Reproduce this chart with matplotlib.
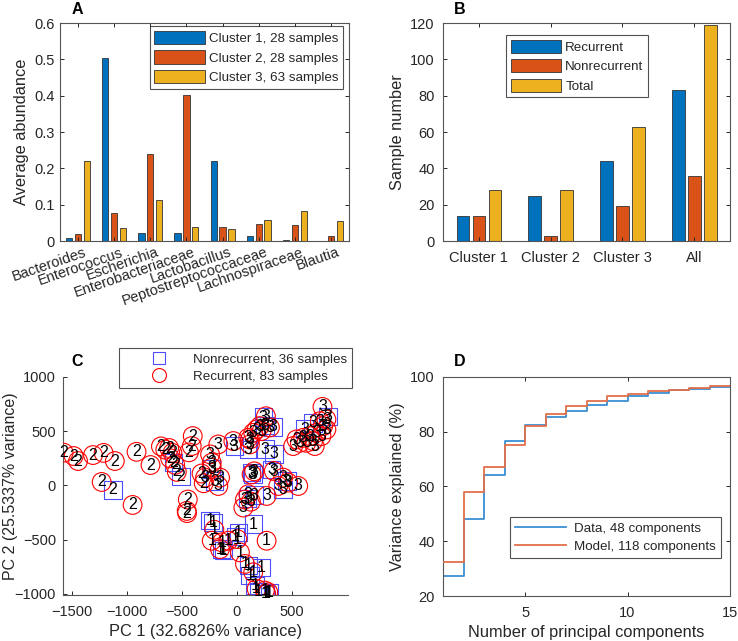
import numpy as np
import matplotlib
matplotlib.use("Agg")
import matplotlib.pyplot as plt
from matplotlib.lines import Line2D
import matplotlib.transforms as mtransforms

plt.rcParams['font.family'] = ['Liberation Sans', 'DejaVu Sans']
plt.rcParams['axes.edgecolor'] = '#262626'
plt.rcParams['xtick.color'] = '#262626'
plt.rcParams['ytick.color'] = '#262626'
plt.rcParams['text.color'] = '#262626'
plt.rcParams['axes.labelcolor'] = '#262626'

# ---------------- data ----------------
# Panel A
taxa = ['Bacteroides', 'Enterococcus', 'Escherichia', 'Enterobacteriaceae',
        'Lactobacillus', 'Peptostreptococcaceae', 'Lachnospiraceae', 'Blautia']
cluster1_abund = [0.007, 0.505, 0.022, 0.022, 0.220, 0.015, 0.002, 0.001]
cluster2_abund = [0.018, 0.077, 0.240, 0.403, 0.038, 0.047, 0.043, 0.013]
cluster3_abund = [0.219, 0.035, 0.113, 0.038, 0.033, 0.057, 0.082, 0.055]
legend_a = ['Cluster 1, 28 samples', 'Cluster 2, 28 samples', 'Cluster 3, 63 samples']

# Panel B
groups_b = ['Cluster 1', 'Cluster 2', 'Cluster 3', 'All']
recurrent_n = [14, 25, 44, 83]
nonrecurrent_n = [14, 3, 19, 36]
total_n = [28, 28, 63, 119]
legend_b = ['Recurrent', 'Nonrecurrent', 'Total']

# Panel C : (PC1, PC2) per sample, grouped by cluster and outcome
c1_nonrec = [(-242, -326), (-215, -340), (151, -357), (15, -434), (-10, -470),
             (-136, -587), (-120, -600), (106, -740), (227, -755), (121, -832),
             (167, -924), (200, -980), (257, -1000), (300, -990)]
c1_rec = [(-203, -409), (273, -510), (6, -495), (-227, -510), (-136, -525),
          (-152, -587), (-76, -510), (30, -617), (76, -724), (151, -801),
          (182, -954), (257, -969), (288, -985), (270, -1000)]
c2_nonrec = [(-1127, -41), (-576, 210), (-506, 80)]
c2_rec = [(-1576, 302), (-1485, 271), (-1445, 225), (-1309, 280), (-1212, 300),
          (-1110, 225), (-912, 310), (-785, 188), (-1230, 32), (-948, -180),
          (-690, 360), (-615, 345), (-585, 300), (-606, 250), (-545, 125),
          (-400, 455), (-409, 363), (-435, 305), (-445, -130), (-455, -235),
          (-452, -255), (-320, 110), (-300, 20), (-560, 190), (-650, 330)]
c3_nonrec = [(242, 630), (260, 555), (330, 540), (-21, 363), (106, 330),
             (258, 335), (342, 290), (136, 118), (150, 100), (424, -35),
             (460, 40), (697, 577), (833, 638), (-230, 150), (-200, 40),
             (100, -120), (160, -90), (620, 520), (318, 148)]
c3_rec = [(267, 638), (212, 547), (303, 535), (151, 485), (106, 439), (182, 516),
          (227, 501), (121, 424), (121, 378), (-30, 409),
          (782, 724), (818, 608), (788, 546), (727, 485), (667, 455), (606, 439),
          (545, 424), (515, 363), (576, 393), (636, 393), (712, 363), (697, 409),
          (773, 455), (818, 516), (758, 592),
          (-167, 378), (-242, 286), (-227, 210), (-227, 164), (-151, 72),
          (-288, 72), (-167, -5), (136, 102), (160, 130), (106, -81), (76, -130),
          (130, -150), (273, -97), (379, -5), (470, 26), (561, -5), (424, 72),
          (61, -204), (339, 133)]
legend_c = ['Nonrecurrent, 36 samples', 'Recurrent, 83 samples']
xlabel_c = 'PC 1 (32.6826% variance)'
ylabel_c = 'PC 2 (25.5337% variance)'

# Panel D : cumulative variance explained (%)
n_components = list(range(1, 16))
data_var = [27.4, 48.0, 64.3, 76.5, 82.6, 85.3, 87.7, 89.8, 91.3, 93.1,
            94.2, 95.2, 95.7, 96.4, 96.6]
model_var = [32.6, 58.1, 67.2, 75.0, 82.0, 86.5, 89.3, 91.4, 93.0, 93.9,
             94.8, 95.4, 96.0, 96.6, 96.7]
legend_d = ['Data, 48 components', 'Model, 118 components']

# ---------------- style ----------------
BLUE = (0.0, 0.447, 0.741)
ORANGE = (0.85, 0.325, 0.098)
YELLOW = (0.929, 0.694, 0.125)
EDGE = '#333333'
TICK_FS = 10.5
LABEL_FS = 11.8
LEG_FS = 9.6

fig = plt.figure(figsize=(7.38, 6.41), dpi=100)


def style_box(ax, box=True, xpad=5, ypad=4):
    for s in ax.spines.values():
        s.set_linewidth(0.8)
        s.set_color('#555555')
    if not box:
        ax.spines['top'].set_visible(False)
        ax.spines['right'].set_visible(False)
    ax.tick_params(direction='in', length=3, width=0.7, labelsize=TICK_FS,
                   top=box, right=box)
    ax.tick_params(axis='x', pad=xpad)
    ax.tick_params(axis='y', pad=ypad)


def legend_frame(leg):
    fr = leg.get_frame()
    fr.set_edgecolor('#262626')
    fr.set_linewidth(0.8)
    fr.set_boxstyle('square', pad=0)


# ---- Panel A ----
axA = fig.add_axes([0.0813, 0.6240, 0.3916, 0.3401])
xa = np.arange(1, len(taxa) + 1)
bw = 0.175
off = 0.245
for vals, col, lab, dx in zip([cluster1_abund, cluster2_abund, cluster3_abund],
                              [BLUE, ORANGE, YELLOW], legend_a, [-off, 0, off]):
    axA.bar(xa + dx, vals, width=bw, color=col, edgecolor=EDGE, linewidth=0.6, label=lab)
axA.set_xlim(0.5, 8.5)
axA.set_ylim(0, 0.6)
axA.set_yticks(np.arange(0, 0.61, 0.1))
axA.set_yticklabels(['0', '0.1', '0.2', '0.3', '0.4', '0.5', '0.6'])
axA.set_xticks(xa)
axA.set_xticklabels(taxa, rotation=19, ha='right', rotation_mode='anchor')
style_box(axA, xpad=3, ypad=4)
shift = mtransforms.ScaledTranslation(6 / 100, 0, fig.dpi_scale_trans)
for t in axA.get_xticklabels():
    t.set_transform(t.get_transform() + shift)
axA.set_ylabel('Average abundance', fontsize=LABEL_FS, labelpad=4)
leg = axA.legend(loc='upper right', bbox_to_anchor=(0.98, 0.985), fontsize=LEG_FS,
                 handlelength=3.8, handleheight=1.15, labelspacing=0.4,
                 borderpad=0.35, handletextpad=0.3, fancybox=False, borderaxespad=0)
legend_frame(leg)

# ---- Panel B ----
axB = fig.add_axes([0.6003, 0.6240, 0.3889, 0.3401])
xb = np.arange(1, len(groups_b) + 1)
bwb = 0.177
offb = 0.223
for vals, col, lab, dx in zip([recurrent_n, nonrecurrent_n, total_n],
                              [BLUE, ORANGE, YELLOW], legend_b, [-offb, 0, offb]):
    axB.bar(xb + dx, vals, width=bwb, color=col, edgecolor=EDGE, linewidth=0.6, label=lab)
axB.set_xlim(0.5, 4.5)
axB.set_ylim(0, 120)
axB.set_yticks(np.arange(0, 121, 20))
axB.set_xticks(xb)
axB.set_xticklabels(groups_b)
axB.set_ylabel('Sample number', fontsize=LABEL_FS)
style_box(axB, xpad=7, ypad=6)
leg = axB.legend(loc='upper left', bbox_to_anchor=(0.2195, 0.945), fontsize=LEG_FS,
                 handlelength=3.8, handleheight=1.15, labelspacing=0.4,
                 borderpad=0.35, handletextpad=0.3, fancybox=False, borderaxespad=0)
legend_frame(leg)

# ---- Panel C ----
axC = fig.add_axes([0.0854, 0.0718, 0.3862, 0.3401])
SQ = '#4d4dff'
MS = 165
for pts in [c1_nonrec, c2_nonrec, c3_nonrec]:
    arr = np.array(pts)
    axC.scatter(arr[:, 0], arr[:, 1], s=MS * 0.95, marker='s', facecolors='none',
                edgecolors=SQ, linewidths=0.8, zorder=2)
for pts in [c1_rec, c2_rec, c3_rec]:
    arr = np.array(pts)
    axC.scatter(arr[:, 0], arr[:, 1], s=MS * 1.1, marker='o', facecolors='none',
                edgecolors='red', linewidths=0.8, zorder=3)
for pts, lab in [(c1_nonrec, '1'), (c2_nonrec, '2'), (c3_nonrec, '3'),
                 (c1_rec, '1'), (c2_rec, '2'), (c3_rec, '3')]:
    for (px, py) in pts:
        axC.text(px, py, lab, ha='center', va='center', fontsize=11.5,
                 color='black', zorder=4)
axC.set_xlim(-1582, 1015)
axC.set_ylim(-1010, 1000)
axC.set_xticks([-1500, -1000, -500, 0, 500])
axC.set_yticks([-1000, -500, 0, 500, 1000])
style_box(axC, box=False, xpad=7, ypad=5)
axC.set_xlabel(xlabel_c, fontsize=LABEL_FS, labelpad=4)
axC.set_ylabel(ylabel_c, fontsize=11.5)
axC.yaxis.set_label_coords(-0.158, 0.5)
hC = [Line2D([], [], marker='s', linestyle='none', markerfacecolor='none',
             markeredgecolor=SQ, markersize=9, markeredgewidth=0.8),
      Line2D([], [], marker='o', linestyle='none', markerfacecolor='none',
             markeredgecolor='red', markersize=10, markeredgewidth=0.8)]
leg = fig.legend(hC, legend_c, loc='upper right', bbox_to_anchor=(0.477, 0.4571),
                 bbox_transform=fig.transFigure, fontsize=LEG_FS, handlelength=5.2,
                 labelspacing=0.35, borderpad=0.4, handletextpad=-0.1,
                 fancybox=False, borderaxespad=0)
legend_frame(leg)

# ---- Panel D ----
axD = fig.add_axes([0.6003, 0.0702, 0.3889, 0.3417])
axD.step(n_components, data_var, where='post', color='#3a8fd4', linewidth=1.3,
         label=legend_d[0], zorder=2)
axD.step(n_components, model_var, where='post', color='#e2704a', linewidth=1.3,
         label=legend_d[1], zorder=3)
axD.set_xlim(1, 15)
axD.set_ylim(20, 100)
axD.set_xticks([5, 10, 15])
axD.set_yticks(np.arange(20, 101, 20))
axD.set_xlabel('Number of principal components', fontsize=LABEL_FS)
axD.set_ylabel('Variance explained (%)', fontsize=LABEL_FS)
style_box(axD, xpad=7, ypad=6)
leg = axD.legend(loc='lower right', bbox_to_anchor=(0.9686, 0.1735), fontsize=LEG_FS,
                 handlelength=3.8, labelspacing=0.4, borderpad=0.4,
                 handletextpad=0.6, fancybox=False, borderaxespad=0)
legend_frame(leg)

# panel letters
for lab, x, y in [('A', 77, 9), ('B', 460, 9), ('C', 77, 362), ('D', 460, 362)]:
    fig.text(x / 738, 1 - y / 641, lab, fontsize=11.5, fontweight='bold',
             ha='center', va='center', color='black')

fig.savefig('out.png', dpi=100)
